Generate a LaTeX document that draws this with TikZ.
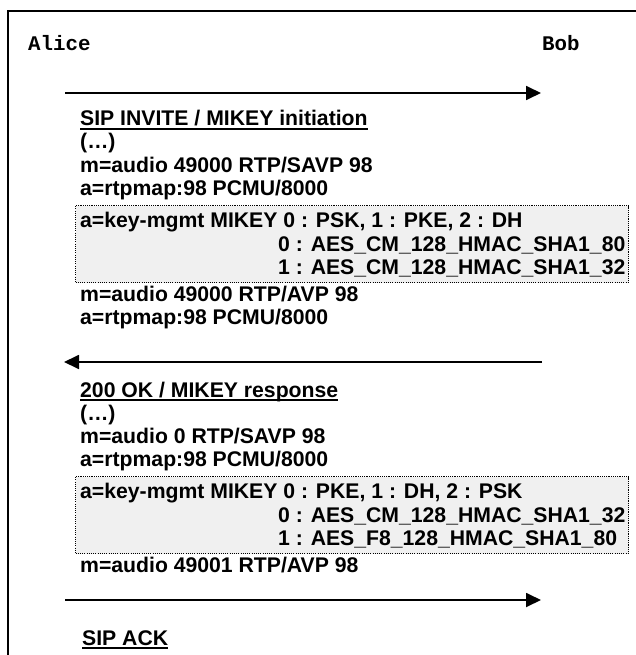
\documentclass[tikz,border=0pt]{standalone}
\usepackage{fontspec}
\setmainfont{Liberation Sans}
\setmonofont{Liberation Mono}
\usetikzlibrary{arrows.meta,positioning}

\tikzset{
  party/.style={font=\ttfamily\bfseries\fontsize{20.8}{23.5}\selectfont, inner sep=0pt, anchor=base west},
  sdp/.style={font=\bfseries\fontsize{21.2}{23.5}\selectfont, inner sep=0pt, anchor=base west},
  keyline/.style={sdp},
  keybox/.style={draw, dash pattern=on 1.1pt off 1.1pt, line width=1.1pt, fill=black!6,
                 inner sep=0pt, anchor=north west, minimum width=553pt, minimum height=77pt},
  msg/.style={-{Triangle[length=15pt,width=14pt]}, line width=1.8pt},
  uline/.style={line width=1.4pt}
}

\begin{document}
\begin{tikzpicture}[x=1pt,y=-1pt]
\useasboundingbox (0,0) rectangle (636,655);
% frame (cut at right and bottom)
\draw[line width=2pt] (8,655) -- (8,11) -- (636,11);
% parties
\node[party] (alice) at (28,51) {Alice};
\node[party] (bob) at (542,51) {Bob};
% message arrows
\coordinate (invA) at (65,93);
\coordinate (invB) at (541,93);
\coordinate (okB) at (542,362);
\coordinate (okA) at (64,362);
\coordinate (ackA) at (65,600);
\coordinate (ackB) at (541,600);
\foreach \a/\b in {invA/invB, okB/okA, ackA/ackB}
  \draw[msg] (\a) -- (\b);
% INVITE
\node[sdp] (inv) at (80,126) {SIP INVITE / MIKEY initiation};
\node[sdp] (inv1) at (80,149) {(…)};
\node[sdp] (inv2) at (80,172) {m=audio 49000 RTP/SAVP 98};
\node[sdp] (inv3) at (80,195) {a=rtpmap:98 PCMU/8000};
\node[keybox] (keyA) at (75,205) {};
\node[keyline] (keyA1) at (80,227) {a=key-mgmt MIKEY 0 : PSK, 1 : PKE, 2 : DH};
\node[keyline] (keyA2) at (278,251) {0 : AES\_CM\_128\_HMAC\_SHA1\_80};
\node[keyline] (keyA3) at (278,274) {1 : AES\_CM\_128\_HMAC\_SHA1\_32};
\node[sdp] (inv4) at (80,301) {m=audio 49000 RTP/AVP 98};
\node[sdp] (inv5) at (80,324) {a=rtpmap:98 PCMU/8000};
% 200 OK
\node[sdp] (ok) at (80,397) {200 OK / MIKEY response};
\node[sdp] (ok1) at (80,420) {(…)};
\node[sdp] (ok2) at (80,443) {m=audio 0 RTP/SAVP 98};
\node[sdp] (ok3) at (80,466) {a=rtpmap:98 PCMU/8000};
\node[keybox] (keyB) at (75,476) {};
\node[keyline] (keyB1) at (80,498) {a=key-mgmt MIKEY 0 : PKE, 1 : DH, 2 : PSK};
\node[keyline] (keyB2) at (278,522) {0 : AES\_CM\_128\_HMAC\_SHA1\_32};
\node[keyline] (keyB3) at (278,545) {1 : AES\_F8\_128\_HMAC\_SHA1\_80};
\node[sdp] (ok4) at (80,572) {m=audio 49001 RTP/AVP 98};
% ACK
\node[sdp] (ack) at (82,645) {SIP ACK};
% underlined titles
\foreach \n in {inv,ok,ack}
  \draw[uline] ([yshift=-3pt]\n.base west) -- ([yshift=-3pt]\n.base east);
\end{tikzpicture}
\end{document}
